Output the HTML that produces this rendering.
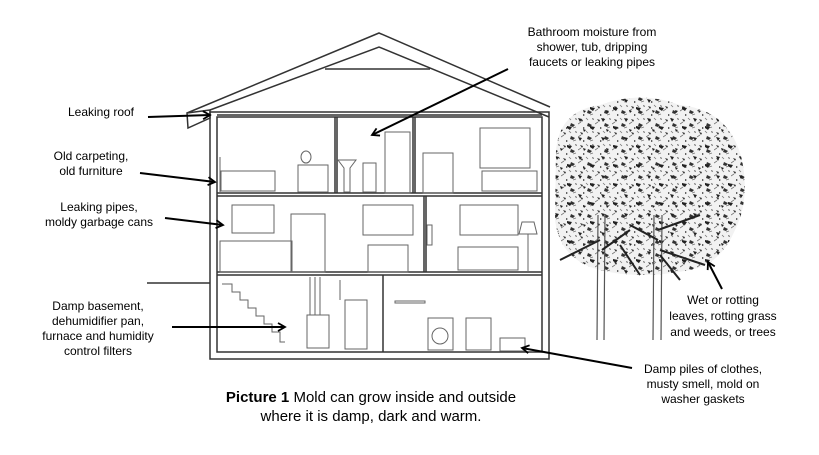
<!DOCTYPE html>
<html><head><style>
body{margin:0;background:#fff;}
svg{display:block;font-family:"Liberation Sans",Arial,sans-serif;}
</style></head><body>
<svg width="819" height="455" viewBox="0 0 819 455">
<defs><marker id="a" markerWidth="10" markerHeight="10" refX="8" refY="5" orient="auto" markerUnits="userSpaceOnUse"><path d="M1,1 L8,5 L1,9" fill="none" stroke="#000" stroke-width="1.8"/></marker>
<pattern id="p" width="17" height="13" patternUnits="userSpaceOnUse">
<rect width="17" height="13" fill="#f2f2f2"/>
<path d="M2,2 l3,1 l-1,2 z M10,6 l4,2 l-2,2 l-3,-1 z M5,10 l2,1 l-2,1 z M14,1 l2,1 l-1,1z" fill="#333"/>
<path d="M0,7 l3,-2 M8,1 l2,2 M12,11 l3,-1" stroke="#777" stroke-width=".8"/>
</pattern>
<pattern id="p2" width="23" height="19" patternUnits="userSpaceOnUse">
<path d="M3,4 l4,1 l-2,3 z M15,12 l5,1 l-2,3 l-3,-2 z M8,15 l3,1 l-2,2z" fill="#222"/>
</pattern>
<clipPath id="c"><path d="M556,150 Q560,110 600,105 Q640,90 680,105 Q730,110 742,160 Q750,200 735,230 Q720,265 690,270 Q640,280 600,270 Q560,260 555,220 Z"/></clipPath></defs>
<!-- tree -->
<g clip-path="url(#c)">
<rect x="540" y="80" width="220" height="210" fill="url(#p)"/>
<rect x="540" y="80" width="220" height="210" fill="url(#p2)"/>
</g>
<g>
<path d="M598,215 L597,340 M605,215 L604,340 M654,215 L653,340 M662,215 L661,340" stroke="#555" stroke-width="1.2"/>
<path d="M600,240 L560,260 M658,230 L700,215 M660,250 L705,265 M602,250 L630,230 M658,240 L630,225 M620,245 L640,275 M660,255 L680,280" stroke="#222" stroke-width="2"/>
</g>
<!-- house -->
<g fill="none" stroke="#333" stroke-width="1.5">
<polyline points="187,113 379,33 550,107"/>
<polyline points="210,110 379,47 549,117"/>
<line x1="325" y1="69" x2="430" y2="69"/>
<polygon points="187,113 210,110 210,118 188,128"/>
<rect x="210" y="112" width="339" height="247"/>
<rect x="217" y="117" width="325" height="235"/>
<line x1="217" y1="115" x2="542" y2="115"/>
<line x1="217" y1="193" x2="542" y2="193"/><line x1="217" y1="196" x2="542" y2="196"/>
<line x1="217" y1="272" x2="542" y2="272"/><line x1="217" y1="275" x2="542" y2="275"/>
<line x1="335" y1="117" x2="335" y2="193"/><line x1="337" y1="117" x2="337" y2="193"/>
<line x1="413" y1="117" x2="413" y2="193"/><line x1="415" y1="117" x2="415" y2="193"/>
<line x1="424" y1="196" x2="424" y2="272"/><line x1="426" y1="196" x2="426" y2="272"/>
<line x1="383" y1="275" x2="383" y2="352"/>
<line x1="147" y1="283" x2="210" y2="283"/>
</g>
<!-- furniture (light) -->
<g fill="none" stroke="#666" stroke-width="1">
<rect x="221" y="171" width="54" height="20"/><line x1="220" y1="157" x2="220" y2="192"/>
<rect x="298" y="165" width="30" height="27"/><ellipse cx="306" cy="157" rx="5" ry="6"/>
<rect x="385" y="132" width="25" height="61"/>
<path d="M338,160 h18 l-6,8 v24 h-6 v-24 z"/><rect x="363" y="163" width="13" height="29"/>
<rect x="423" y="153" width="30" height="40"/>
<rect x="480" y="128" width="50" height="40"/><rect x="482" y="171" width="55" height="20"/>
<rect x="232" y="205" width="42" height="28"/><rect x="220" y="241" width="72" height="31"/>
<rect x="291" y="214" width="34" height="58"/>
<rect x="363" y="205" width="50" height="30"/><rect x="368" y="245" width="40" height="27"/>
<rect x="460" y="205" width="58" height="30"/><rect x="458" y="247" width="60" height="23"/>
<rect x="427" y="225" width="5" height="20"/><path d="M522,222 h12 l3,12 h-18 z M528,234 v37"/>
<path d="M222,284 h10 v8 h8 v8 h8 v8 h8 v8 h8 v8 h8 v8 h8 v10 h5"/>
<rect x="307" y="315" width="22" height="33"/><rect x="345" y="300" width="22" height="49"/>
<path d="M310,315 v-38 M315,315 v-38 M320,315 v-38 M340,300 v-20"/>
<rect x="428" y="318" width="25" height="32"/><circle cx="440" cy="336" r="8"/>
<rect x="466" y="318" width="25" height="32"/><rect x="395" y="301" width="30" height="2"/>
<rect x="500" y="338" width="25" height="13"/>
</g>
<!-- arrows -->
<g stroke="#000" stroke-width="2" fill="none" marker-end="url(#a)">
<line x1="148" y1="117" x2="210" y2="115"/>
<line x1="140" y1="173" x2="215" y2="182"/>
<line x1="165" y1="218" x2="223" y2="225"/>
<line x1="172" y1="327" x2="285" y2="327"/>
<line x1="508" y1="69" x2="372" y2="135"/>
<line x1="632" y1="368" x2="522" y2="348"/>
<line x1="722" y1="289" x2="708" y2="262"/>
</g>
<!-- labels -->
<g font-size="12" fill="#000" text-anchor="middle">
<text x="101" y="116">Leaking roof</text>
<text x="91" y="160">Old carpeting,</text><text x="91" y="175">old furniture</text>
<text x="99" y="211">Leaking pipes,</text><text x="99" y="226">moldy garbage cans</text>
<text x="98" y="310">Damp basement,</text><text x="98" y="325">dehumidifier pan,</text><text x="98" y="340">furnace and humidity</text><text x="98" y="355">control filters</text>
<text x="592" y="36">Bathroom moisture from</text><text x="592" y="51">shower, tub, dripping</text><text x="592" y="66">faucets or leaking pipes</text>
<text x="723" y="304">Wet or rotting</text><text x="723" y="320">leaves, rotting grass</text><text x="723" y="336">and weeds, or trees</text>
<text x="703" y="373">Damp piles of clothes,</text><text x="703" y="388">musty smell, mold on</text><text x="703" y="403">washer gaskets</text>
</g>
<g font-size="15" text-anchor="middle">
<text x="371" y="402"><tspan font-weight="bold">Picture 1</tspan>  Mold can grow inside and outside</text>
<text x="371" y="421">where it is damp, dark and warm.</text>
</g>
</svg>
</body></html>
